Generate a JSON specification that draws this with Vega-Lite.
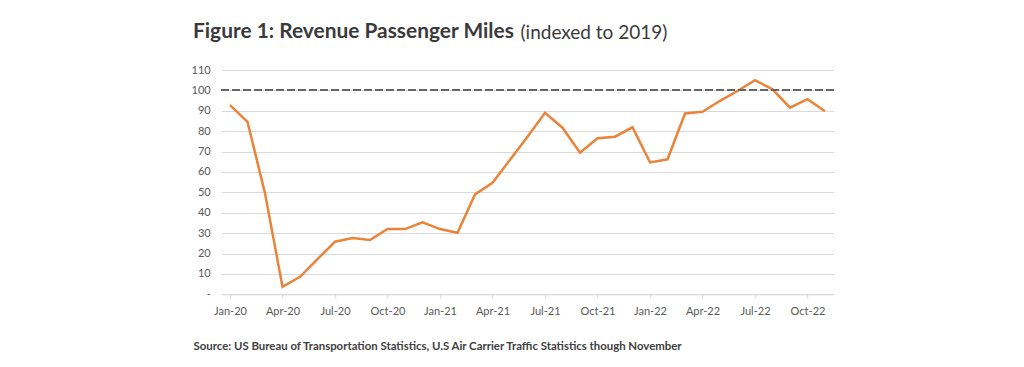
{
  "$schema": "https://vega.github.io/schema/vega-lite/v6.json",
  "width": 612.5,
  "height": 224.3,
  "autosize": {"type": "none"},
  "padding": {"left": 221.25, "top": 70, "right": 190.25, "bottom": 72.7},
  "background": "white",
  "title": {
    "text": "Figure 1: Revenue Passenger Miles",
    "anchor": "start",
    "frame": "group",
    "dx": -28.25,
    "offset": 20,
    "dy": 39,
    "font": "Lato",
    "fontSize": 20.9,
    "fontWeight": "bold",
    "color": "#3a3a3a"
  },
  "config": {"view": {"stroke": null}},
  "data": {
    "values": [
      {"month": "Jan-20", "value": 92.8},
      {"month": "Feb-20", "value": 84.6},
      {"month": "Mar-20", "value": 49.5},
      {"month": "Apr-20", "value": 3.7},
      {"month": "May-20", "value": 8.6},
      {"month": "Jun-20", "value": 17.2},
      {"month": "Jul-20", "value": 25.8},
      {"month": "Aug-20", "value": 27.6},
      {"month": "Sep-20", "value": 26.6},
      {"month": "Oct-20", "value": 32.0},
      {"month": "Nov-20", "value": 32.0},
      {"month": "Dec-20", "value": 35.3},
      {"month": "Jan-21", "value": 32.0},
      {"month": "Feb-21", "value": 30.2},
      {"month": "Mar-21", "value": 49.0},
      {"month": "Apr-21", "value": 54.7},
      {"month": "May-21", "value": 66.0},
      {"month": "Jun-21", "value": 77.3},
      {"month": "Jul-21", "value": 89.0},
      {"month": "Aug-21", "value": 81.7},
      {"month": "Sep-21", "value": 69.4},
      {"month": "Oct-21", "value": 76.5},
      {"month": "Nov-21", "value": 77.3},
      {"month": "Dec-21", "value": 81.9},
      {"month": "Jan-22", "value": 64.7},
      {"month": "Feb-22", "value": 66.2},
      {"month": "Mar-22", "value": 88.7},
      {"month": "Apr-22", "value": 89.5},
      {"month": "May-22", "value": 94.9},
      {"month": "Jun-22", "value": 99.7},
      {"month": "Jul-22", "value": 105.0},
      {"month": "Aug-22", "value": 100.5},
      {"month": "Sep-22", "value": 91.5},
      {"month": "Oct-22", "value": 95.7},
      {"month": "Nov-22", "value": 89.8}
    ]
  },
  "layer": [
    {
      "mark": {"type": "line", "color": "#E9843A", "strokeWidth": 2.5},
      "encoding": {
        "x": {
          "field": "month",
          "type": "ordinal",
          "sort": null,
          "scale": {"type": "point", "padding": 0.5},
          "axis": {
            "values": ["Jan-20", "Apr-20", "Jul-20", "Oct-20", "Jan-21", "Apr-21", "Jul-21", "Oct-21", "Jan-22", "Apr-22", "Jul-22", "Oct-22"],
            "labelAngle": 0,
            "labelFont": "Lato",
            "labelFontSize": 11,
            "labelColor": "#595959",
            "labelPadding": 7,
            "domainColor": "#d9d9d9",
            "tickColor": "#d9d9d9",
            "tickSize": 4,
            "grid": false,
            "title": "Source: US Bureau of Transportation Statistics, U.S Air Carrier Traffic Statistics though November",
            "titleX": -28.25,
            "titleY": 54.7,
            "titleAlign": "left",
            "titleAnchor": "start",
            "titleBaseline": "alphabetic",
            "titleFont": "Lato",
            "titleFontSize": 11.4,
            "titleFontWeight": "bold",
            "titleColor": "#404040"
          }
        },
        "y": {
          "field": "value",
          "type": "quantitative",
          "scale": {"domain": [0, 110], "nice": false},
          "axis": {
            "values": [0, 10, 20, 30, 40, 50, 60, 70, 80, 90, 100, 110],
            "tickCount": 20,
            "labelExpr": "datum.value == 0 ? '-' : datum.label",
            "labelOverlap": false,
            "domain": false,
            "ticks": false,
            "grid": true,
            "gridColor": "#d9d9d9",
            "gridWidth": 1,
            "labelPadding": 11,
            "labelFont": "Lato",
            "labelFontSize": 11,
            "labelColor": "#595959",
            "title": "(indexed to 2019)",
            "titleAngle": 0,
            "titleX": 298.75,
            "titleY": -31.7,
            "titleAlign": "left",
            "titleBaseline": "alphabetic",
            "titleFont": "Lato",
            "titleFontSize": 19,
            "titleFontWeight": "normal",
            "titleColor": "#3a3a3a"
          }
        }
      }
    },
    {
      "mark": {"type": "rule", "color": "#666666", "strokeWidth": 1.4, "strokeDash": [7, 4]},
      "encoding": {
        "y": {
          "datum": 100,
          "type": "quantitative",
          "axis": {
            "values": [0, 10, 20, 30, 40, 50, 60, 70, 80, 90, 100, 110],
            "tickCount": 20,
            "labelExpr": "datum.value == 0 ? '-' : datum.label",
            "labelOverlap": false,
            "domain": false,
            "ticks": false,
            "grid": true,
            "gridColor": "#d9d9d9",
            "gridWidth": 1,
            "labelPadding": 11,
            "labelFont": "Lato",
            "labelFontSize": 11,
            "labelColor": "#595959",
            "title": "(indexed to 2019)",
            "titleAngle": 0,
            "titleX": 298.75,
            "titleY": -31.7,
            "titleAlign": "left",
            "titleBaseline": "alphabetic",
            "titleFont": "Lato",
            "titleFontSize": 19,
            "titleFontWeight": "normal",
            "titleColor": "#3a3a3a"
          }
        }
      }
    }
  ]
}
